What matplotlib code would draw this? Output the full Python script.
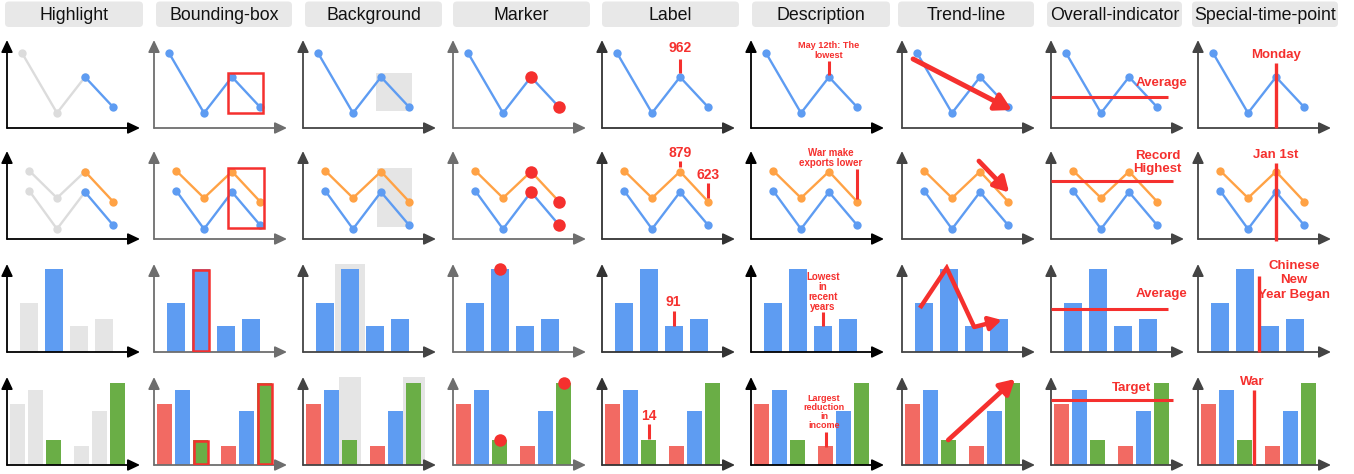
import numpy as np
import matplotlib
matplotlib.use("Agg")
import matplotlib.pyplot as plt
from matplotlib.patches import Rectangle, FancyBboxPatch

plt.rcParams['font.family'] = ['Liberation Sans', 'DejaVu Sans']

W, H = 1354, 474

# ─── Data ─────────────────────────────────────────────────────────────────────

COLUMNS = ['Highlight', 'Bounding-box', 'Background', 'Marker', 'Label',
           'Description', 'Trend-line', 'Overall-indicator', 'Special-time-point']

# single line (row 1)
LINE_X_TOP = [-0.25, 1, 2, 3]
LINE_TOP = [75, 15, 51, 21]

# two lines (row 2)
LINE_X = [0, 1, 2, 3]
LINE_ORANGE = [68.5, 41, 67.5, 37.5]
LINE_BLUE = [48.5, 10, 47, 14]

# four bars (row 3)
BAR4_X = [0, 1, 2, 3]
BARS_FOUR = [49, 83, 26, 33]

# six bars in two groups (row 4)
BAR6_X = [0, 1, 2, 3.56, 4.56, 5.56]
BARS_SIX = [61, 75, 25, 19, 54, 82]

# annotation texts
LABELS = ['962', ('879', '623'), '91', '14']
DESCRIPTIONS = ['May 12th: The\nlowest', 'War make\nexports lower',
                'Lowest\nin\nrecent\nyears', 'Largest\nreduction\nin\nincome']
OVERALL_TEXT = ['Average', 'Record\nHighest', 'Average', 'Target']
OVERALL_VALUE = [31, 58, 43, 65]
SPECIAL_TEXT = ['Monday', 'Jan 1st', 'Chinese\nNew\nYear Began', 'War']
SPECIAL_X = [2, 2, 1.57, 2.51]

# trend arrows (x list, y list)
TREND_TOP = ([-0.39, 3.14], [69, 18])
TREND_TWO = ([1.96, 3.04], [78, 46.5])
TREND_FOUR = ([-0.15, 0.92, 2.02, 3.12], [44, 84, 25, 32])
TREND_SIX = ([1.97, 5.68], [25, 86])

# ─── Style ────────────────────────────────────────────────────────────────────

BLUE = '#5E9CF2'
ORANGE = '#FFA245'
GREEN = '#6AAE46'
RED_BAR = '#F26A63'
GRAY = '#E5E5E5'
GRAY_LINE = '#DCDCDC'
ANNOT = '#F5302E'
HEADER_BG = '#E8E8E8'
SIX_COLORS = [RED_BAR, BLUE, GREEN] * 2

AXIS_COLORS = ['black', '#6e6e6e', '#444444', '#6e6e6e', '#333333',
               'black', '#444444', '#444444', '#444444']

COL_X = [7, 154, 303, 453, 602, 751, 902, 1051, 1198]
ROW_BASE = [128, 239, 352, 465]
PANEL_W, PANEL_H = 133, 88
XLIMS = [(-0.786, 3.964), (-0.786, 3.964), (-0.868, 4.452), (-0.6, 6.79)]

HEADER_LEFT = [5, 156, 305, 453, 602, 752, 898, 1047, 1192]
HEADER_WIDTH = [138, 136, 137, 137, 137, 138, 136, 135, 146]

LINE_KW = dict(lw=1.7, marker='o', ms=6, mew=0)
BIG = 9.5

fig = plt.figure(figsize=(W / 100, H / 100), dpi=100)

# ─── Headers ──────────────────────────────────────────────────────────────────

bg = fig.add_axes([0, 0, 1, 1])
bg.set_xlim(0, W)
bg.set_ylim(H, 0)
bg.set_axis_off()
for name, left, width in zip(COLUMNS, HEADER_LEFT, HEADER_WIDTH):
    bg.add_patch(FancyBboxPatch((left, 1.5), width, 25.5,
                                boxstyle='round,pad=0,rounding_size=4',
                                fc=HEADER_BG, ec='none'))
    bg.text(left + width / 2, 15, name, ha='center', va='center',
            fontsize=12.8, color='#111111')


# ─── Helpers ──────────────────────────────────────────────────────────────────

def make_panel(col, row):
    left = COL_X[col]
    base = ROW_BASE[row]
    ax = fig.add_axes([left / W, 1 - base / H, PANEL_W / W, PANEL_H / H])
    ax.set_axis_off()
    ax.set_xlim(*XLIMS[row])
    ax.set_ylim(0, PANEL_H)
    c = AXIS_COLORS[col]
    for end in [(1, 0), (0, 1)]:
        ax.annotate('', xy=end, xytext=(0, 0), xycoords='axes fraction',
                    arrowprops=dict(arrowstyle='-|>,head_length=0.8,head_width=0.38',
                                    color=c, lw=1.3, shrinkA=0, shrinkB=0,
                                    mutation_scale=9))
    return ax


def draw_base(ax, row, highlight=False):
    if row == 0:
        if highlight:
            ax.plot(LINE_X_TOP[:3], LINE_TOP[:3], color=GRAY_LINE, **LINE_KW)
            ax.plot(LINE_X_TOP[2:], LINE_TOP[2:], color=BLUE, **LINE_KW)
        else:
            ax.plot(LINE_X_TOP, LINE_TOP, color=BLUE, **LINE_KW)
    elif row == 1:
        pairs = ((LINE_ORANGE, ORANGE), (LINE_BLUE, BLUE))
        if highlight:
            for ys, c in pairs:
                ax.plot(LINE_X[:3], ys[:3], color=GRAY_LINE, **LINE_KW)
            for ys, c in pairs:
                ax.plot(LINE_X[2:], ys[2:], color=c, **LINE_KW)
        else:
            for ys, c in pairs:
                ax.plot(LINE_X, ys, color=c, **LINE_KW)
    elif row == 2:
        colors = [GRAY, BLUE, GRAY, GRAY] if highlight else BLUE
        ax.bar(BAR4_X, BARS_FOUR, width=0.71, color=colors)
    else:
        colors = [c if (c == GREEN or not highlight) else GRAY for c in SIX_COLORS]
        ax.bar(BAR6_X, BARS_SIX, width=0.83, color=colors)


def note(ax, x, y, s, size=BIG, **kw):
    opts = dict(ha='center', multialignment='center', linespacing=1.0,
                va='center', clip_on=False)
    opts.update(kw)
    ax.text(x, y, s, color=ANNOT, fontsize=size, fontweight='bold', **opts)


def stick(ax, x, y0, y1, lw=2.2):
    ax.plot([x, x], [y0, y1], color=ANNOT, lw=lw, solid_capstyle='butt',
            clip_on=False, zorder=4)


def arrow(ax, x0, y0, x1, y1, lw=3.4, scale=12):
    ax.annotate('', xy=(x1, y1), xytext=(x0, y0),
                arrowprops=dict(arrowstyle='-|>,head_length=0.8,head_width=0.45',
                                color=ANNOT, lw=lw, shrinkA=0, shrinkB=0,
                                mutation_scale=scale), annotation_clip=False)


def red_box(ax, x0, y0, x1, y1):
    ax.add_patch(Rectangle((x0, y0), x1 - x0, y1 - y0, fill=False,
                           ec=ANNOT, lw=1.8, zorder=4))


# ─── Columns ──────────────────────────────────────────────────────────────────

def col_highlight(ax, row):
    draw_base(ax, row, highlight=True)


def col_bbox(ax, row):
    draw_base(ax, row)
    if row == 0:
        red_box(ax, LINE_X_TOP[2] - 0.14, min(LINE_TOP[2:]) - 6,
                LINE_X_TOP[3] + 0.11, max(LINE_TOP[2:]) + 4)
    elif row == 1:
        red_box(ax, LINE_X[2] - 0.14, min(LINE_BLUE[2:]) - 3,
                LINE_X[3] + 0.14, max(LINE_ORANGE[2:]) + 4)
    elif row == 2:
        i = 1
        red_box(ax, BAR4_X[i] - 0.32, 1, BAR4_X[i] + 0.32, BARS_FOUR[i] - 0.5)
    else:
        for i in (2, 5):
            red_box(ax, BAR6_X[i] - 0.38, 1, BAR6_X[i] + 0.38, BARS_SIX[i] - 0.5)


def col_background(ax, row):
    if row == 0:
        ax.add_patch(Rectangle((LINE_X_TOP[2] - 0.18, min(LINE_TOP[2:]) - 4),
                               1.28, max(LINE_TOP[2:]) - min(LINE_TOP[2:]) + 8,
                               fc=GRAY, ec='none', zorder=0))
    elif row == 1:
        lo, hi = min(LINE_BLUE[2:]) - 2.5, max(LINE_ORANGE[2:]) + 3.5
        ax.add_patch(Rectangle((LINE_X[2] - 0.14, lo), 1.24, hi - lo,
                               fc=GRAY, ec='none', zorder=0))
    elif row == 2:
        ax.axvspan(BAR4_X[1] - 0.6, BAR4_X[1] + 0.6, color=GRAY, lw=0, zorder=0)
    else:
        for i in (2, 5):
            ax.axvspan(BAR6_X[i] - 0.61, BAR6_X[i] + 0.61, color=GRAY, lw=0, zorder=0)
    draw_base(ax, row)


def col_marker(ax, row):
    draw_base(ax, row)
    kw = dict(ls='none', marker='o', ms=9, mew=0, color=ANNOT, zorder=5, clip_on=False)
    if row == 0:
        ax.plot(LINE_X_TOP[2:], LINE_TOP[2:], **kw)
    elif row == 1:
        ax.plot(LINE_X[2:] * 2, LINE_ORANGE[2:] + LINE_BLUE[2:], **kw)
    elif row == 2:
        ax.plot([BAR4_X[1]], [BARS_FOUR[1]], **kw)
    else:
        ax.plot([BAR6_X[2], BAR6_X[5]], [BARS_SIX[2], BARS_SIX[5]], **kw)


def col_label(ax, row):
    draw_base(ax, row)
    if row == 0:
        x, y = LINE_X_TOP[2], LINE_TOP[2]
        stick(ax, x, y + 4, y + 18)
        note(ax, x, y + 29, LABELS[0], size=10)
    elif row == 1:
        x, y = LINE_X[2], LINE_ORANGE[2]
        stick(ax, x, y + 5, y + 11)
        note(ax, x, y + 18.5, LABELS[1][0], size=10)
        x, y = LINE_X[3], LINE_ORANGE[3]
        stick(ax, x, y + 4, y + 19)
        note(ax, x, y + 26.5, LABELS[1][1], size=10)
    elif row == 2:
        x, y = BAR4_X[2], BARS_FOUR[2]
        stick(ax, x, y, y + 15)
        note(ax, x, y + 24, LABELS[2], size=10)
    else:
        x, y = BAR6_X[2], BARS_SIX[2]
        stick(ax, x, y + 1, y + 16)
        note(ax, x, y + 24.5, LABELS[3], size=10)


def col_description(ax, row):
    draw_base(ax, row)
    if row == 0:
        x, y = LINE_X_TOP[2], LINE_TOP[2]
        stick(ax, x, y + 2, y + 16)
        note(ax, x, y + 26.5, DESCRIPTIONS[0], size=6.6, linespacing=1.1)
    elif row == 1:
        x, y = LINE_X[3], LINE_ORANGE[3]
        stick(ax, x, y + 3, y + 33)
        note(ax, x + 0.18, y + 44, DESCRIPTIONS[1], size=7, ha='right')
    elif row == 2:
        x, y = BAR4_X[2], BARS_FOUR[2]
        stick(ax, x, y, y + 14)
        note(ax, x, y + 34, DESCRIPTIONS[2], size=7)
    else:
        x, y = BAR6_X[3], BARS_SIX[3]
        stick(ax, x, y - 1, y + 14)
        note(ax, x - 0.1, y + 34, DESCRIPTIONS[3], size=6.5)


def col_trend(ax, row):
    draw_base(ax, row)
    if row == 0:
        xs, ys = TREND_TOP
        arrow(ax, xs[0], ys[0], xs[1], ys[1], lw=3.6, scale=12)
    elif row == 1:
        xs, ys = TREND_TWO
        arrow(ax, xs[0], ys[0], xs[1], ys[1], lw=3.4, scale=11)
    elif row == 2:
        xs, ys = TREND_FOUR
        ax.plot(xs[:3], ys[:3], color=ANNOT, lw=3.2, solid_joinstyle='miter',
                solid_capstyle='butt', zorder=4)
        arrow(ax, xs[2], ys[2], xs[3], ys[3], lw=3.2, scale=9)
    else:
        xs, ys = TREND_SIX
        arrow(ax, xs[0], ys[0], xs[1], ys[1], lw=3.4, scale=11)


def col_overall(ax, row):
    draw_base(ax, row)
    ends = [3.39, 3.56, 3.81, 6.16]
    lo = XLIMS[row][0]
    ax.plot([lo, ends[row]], [OVERALL_VALUE[row]] * 2, color=ANNOT, lw=2.2,
            solid_capstyle='butt', clip_on=False, zorder=4)
    if row == 0:
        note(ax, 4.07, 45.3, OVERALL_TEXT[0], ha='right')
    elif row == 1:
        note(ax, 3.89, 76.3, OVERALL_TEXT[1], ha='right', linespacing=1.1)
    elif row == 2:
        note(ax, 4.57, 57.7, OVERALL_TEXT[2], ha='right')
    else:
        note(ax, 3.88, 76.7, OVERALL_TEXT[3])


def col_special(ax, row):
    draw_base(ax, row)
    x = SPECIAL_X[row]
    if row == 0:
        stick(ax, x, 0, 65, lw=2.4)
        note(ax, x, 73, SPECIAL_TEXT[0])
    elif row == 1:
        stick(ax, x, -2, 76, lw=2.4)
        note(ax, x, 83.6, SPECIAL_TEXT[1])
    elif row == 2:
        stick(ax, x, 0, 75.7, lw=2.4)
        note(ax, 2.97, 71.6, SPECIAL_TEXT[2], linespacing=1.3)
    else:
        stick(ax, x, 0, 75, lw=2.4)
        note(ax, x - 0.07, 83.3, SPECIAL_TEXT[3])


COLUMN_FUNCS = [col_highlight, col_bbox, col_background, col_marker, col_label,
                col_description, col_trend, col_overall, col_special]

for col, func in enumerate(COLUMN_FUNCS):
    for row in range(4):
        ax = make_panel(col, row)
        func(ax, row)

fig.savefig('out.png', dpi=100)
